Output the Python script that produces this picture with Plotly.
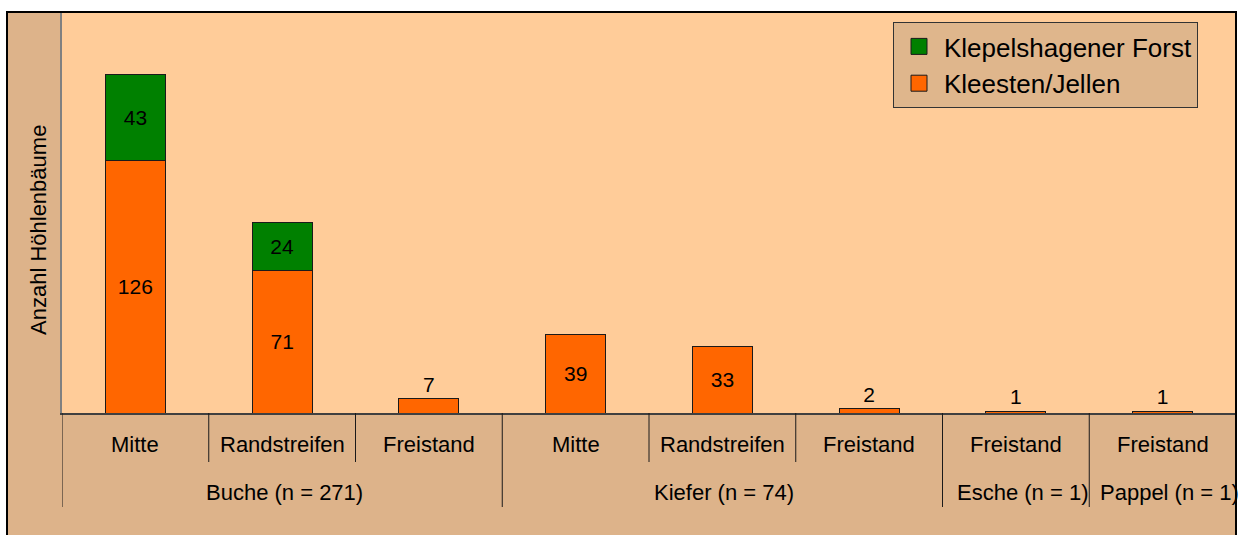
import plotly.graph_objects as go

# ---- data ----
groups = ["Buche (n = 271)", "Buche (n = 271)", "Buche (n = 271)",
          "Kiefer (n = 74)", "Kiefer (n = 74)", "Kiefer (n = 74)",
          "Esche (n = 1)", "Pappel (n = 1)"]
subs = ["Mitte", "Randstreifen", "Freistand",
        "Mitte", "Randstreifen", "Freistand",
        "Freistand", "Freistand"]
kleesten_jellen = [126, 71, 7, 39, 33, 2, 1, 1]
klepelshagener_forst = [43, 24, None, None, None, None, None, None]
series_names = ["Klepelshagener Forst", "Kleesten/Jellen"]
y_title = "Anzahl Höhlenbäume"

# ---- style ----
FONT = "Liberation Sans, Arial, sans-serif"
ORANGE = "#ff6600"
GREEN = "#008000"
PLOT_BG = "#ffcc99"
FRAME_BG = "#ddb38a"

cats = [f"{g}|{s}" for g, s in zip(groups, subs)]
n = len(cats)

def text_pos(vals):
    return ["inside" if (v is not None and v >= 10) else "outside" for v in vals]

fig = go.Figure()

fig.add_trace(go.Bar(
    x=cats, y=kleesten_jellen, name=series_names[1], showlegend=False,
    marker=dict(color=ORANGE, line=dict(color="#1a1a1a", width=1)),
    text=kleesten_jellen, textposition=text_pos(kleesten_jellen),
    insidetextanchor="middle", textangle=0, constraintext="none",
    textfont=dict(family=FONT, size=21, color="black"),
    cliponaxis=False,
))
fig.add_trace(go.Bar(
    x=cats, y=klepelshagener_forst, name=series_names[0], showlegend=False,
    marker=dict(color=GREEN, line=dict(color="#1a1a1a", width=1)),
    text=klepelshagener_forst, textposition="inside",
    insidetextanchor="middle", textangle=0, constraintext="none",
    textfont=dict(family=FONT, size=21, color="black"),
))

# legend entries (square swatches)
for name, col in [(series_names[0], GREEN), (series_names[1], ORANGE)]:
    fig.add_trace(go.Scatter(
        x=[None], y=[None], mode="markers", name=name,
        marker=dict(symbol="square", size=16, color=col,
                    line=dict(color="#1a1a1a", width=1)),
    ))

W, H = 1245, 535
ML, MR, MT, MB = 62, 9, 12, 122
pw = W - ML - MR
ph = H - MT - MB

def px_to_paper_x(px):
    return (px - ML) / pw

def py_to_paper_y(py):
    return (H - MB - py) / ph

shapes = []
# frame background
shapes.append(dict(type="rect", xref="paper", yref="paper", layer="below",
                   x0=px_to_paper_x(7), x1=1, y0=py_to_paper_y(545), y1=1,
                   fillcolor=FRAME_BG, line=dict(width=0)))
# plot area
shapes.append(dict(type="rect", xref="paper", yref="paper", layer="below",
                   x0=0, x1=1, y0=0, y1=1,
                   fillcolor=PLOT_BG, line=dict(width=0)))

# category dividers
y_short = py_to_paper_y(462)
y_long = py_to_paper_y(507)
for i in range(n + 1):
    if i == 0 or i == n or groups[i] != groups[i - 1]:
        y_end = y_long
    else:
        y_end = y_short
    shapes.append(dict(type="line", xref="x", yref="paper", layer="above",
                       x0=i - 0.5, x1=i - 0.5, y0=0, y1=y_end,
                       line=dict(color="#1a1a1a", width=1)))

# frame border
shapes.append(dict(type="rect", xref="paper", yref="paper", layer="above",
                   x0=px_to_paper_x(7), x1=1, y0=py_to_paper_y(545), y1=1,
                   fillcolor="rgba(0,0,0,0)", line=dict(color="black", width=2)))

annotations = []
for c, s in zip(cats, subs):
    annotations.append(dict(x=c, xref="x", y=py_to_paper_y(445), yref="paper",
                            text=s, showarrow=False, yanchor="middle",
                            font=dict(family=FONT, size=22, color="black")))
seen = []
for g in groups:
    if g not in seen:
        seen.append(g)
for g in seen:
    idx = [i for i, gg in enumerate(groups) if gg == g]
    xc = sum(idx) / len(idx)
    annotations.append(dict(x=xc, xref="x", y=py_to_paper_y(492), yref="paper",
                            text=g, showarrow=False, yanchor="middle",
                            xshift=7 if len(idx) == 1 else 2,
                            font=dict(family=FONT, size=22, color="black")))
# y axis title
annotations.append(dict(x=px_to_paper_x(38), xref="paper", y=py_to_paper_y(230), yref="paper",
                        text=y_title, textangle=-90, showarrow=False,
                        xanchor="center", yanchor="middle",
                        font=dict(family=FONT, size=22, color="black")))

fig.update_layout(
    width=W, height=H,
    margin=dict(l=ML, r=MR, t=MT, b=MB, pad=0),
    paper_bgcolor="white",
    plot_bgcolor="rgba(0,0,0,0)",
    barmode="stack",
    bargap=0.59,
    font=dict(family=FONT, size=21, color="black"),
    showlegend=True,
    legend=dict(
        x=px_to_paper_x(893), y=py_to_paper_y(22), xanchor="left", yanchor="top",
        bgcolor="#dfb68c", bordercolor="#333333", borderwidth=1,
        font=dict(family=FONT, size=26, color="black"),
        traceorder="normal", tracegroupgap=0, itemwidth=40,
    ),
    xaxis=dict(
        type="category", categoryorder="array", categoryarray=cats,
        range=[-0.5, n - 0.5], showticklabels=False, ticks="",
        showgrid=False, zeroline=False,
        showline=True, linecolor="#404040", linewidth=2,
    ),
    yaxis=dict(
        range=[0, 200], showticklabels=False, ticks="",
        showgrid=False, zeroline=False,
        showline=True, linecolor="#808080", linewidth=2,
    ),
    shapes=shapes,
    annotations=annotations,
)

fig.write_html("out.html", config={"displayModeBar": False},
               post_script="document.body.style.margin='0';document.body.style.padding='0';")
